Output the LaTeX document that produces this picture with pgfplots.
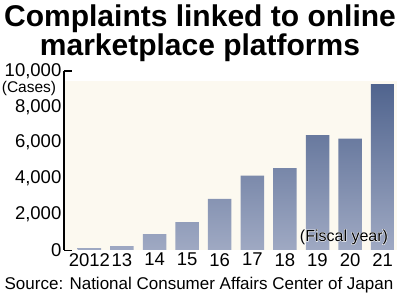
\documentclass[border=0pt]{standalone}
\usepackage{pgfplots}
\pgfplotsset{compat=1.18}
\usepackage{fontspec}
\setmainfont{Liberation Sans}
\newfontfamily\halofont{Liberation Sans}[FakeBold=5]
\definecolor{cream}{HTML}{FCF9F0}
\definecolor{bartop}{HTML}{50648E}
\definecolor{barbot}{HTML}{9FA9C3}
\begin{document}
\begin{tikzpicture}
\useasboundingbox (0,0) rectangle (400pt,294pt);
\node[anchor=base, inner sep=0, font=\bfseries\fontsize{30}{30}\selectfont] at (200pt,267.5pt) {Complaints linked to online};
\node[anchor=base, inner sep=0, font=\bfseries\fontsize{30}{30}\selectfont] at (200pt,238.5pt) {marketplace platforms};
\begin{axis}[
  at={(64pt,44pt)}, anchor=south west, scale only axis,
  width=333pt, height=179pt,
  xmin=-0.78, xmax=9.44, ymin=0, ymax=10000,
  axis y line*=left, axis x line*=bottom,
  x axis line style={draw=none},
  y axis line style={line width=1.2pt, -},
  xtick style={draw=none},
  ytick style={line width=1.2pt, black},
  tick align=inside, major tick length=8pt,
  ytick={0,2000,4000,6000,8000,10000},
  scaled y ticks=false,
  yticklabel style={/pgf/number format/1000 sep={,}, inner xsep=2.5pt},
  /pgf/number format/assume math mode=true,
  tick label style={font=\fontsize{18.5}{18.5}\selectfont},
  xticklabel style={inner ysep=3pt},
  xtick={0,...,9},
  xticklabels={2012,13,14,15,16,17,18,19,20,21},
  clip=false,
]
\fill[cream] (axis cs:-0.74,0) rectangle (axis cs:9.44,9440);
\addplot[ybar, bar width=23.5pt, draw=none, top color=bartop, bottom color=barbot]
  coordinates {(0,110) (1,210) (2,880) (3,1560) (4,2850) (5,4150) (6,4580) (7,6420) (8,6220) (9,9270)};
\end{axis}
\node[font=\fontsize{15.5}{15.5}\selectfont, inner sep=0] at (29pt,206pt) {(Cases)};
\node[text=white, font=\halofont\fontsize{16}{16}\selectfont, inner sep=0] at (344pt,57pt) {(Fiscal year)};
\node[font=\fontsize{16}{16}\selectfont, inner sep=0] at (344pt,57pt) {(Fiscal year)};
\node[anchor=base, inner sep=0, font=\fontsize{17}{17}\selectfont] at (199pt,4.5pt) {Source: National Consumer Affairs Center of Japan};
\end{tikzpicture}
\end{document}
